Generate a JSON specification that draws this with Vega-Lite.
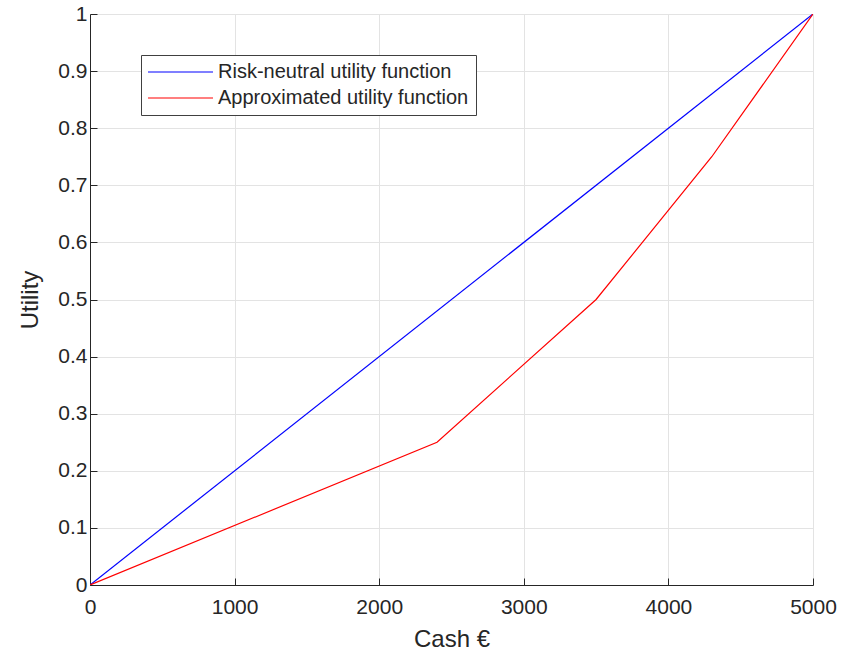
{
  "$schema": "https://vega.github.io/schema/vega-lite/v6.json",
  "autosize": "none",
  "width": 723,
  "height": 571,
  "padding": {"left": 90, "top": 14, "right": 39, "bottom": 68},
  "background": "white",
  "config": {
    "font": "Liberation Sans",
    "view": {"stroke": "#e3e3e3", "strokeWidth": 1},
    "axis": {
      "labelFont": "Liberation Sans",
      "titleFont": "Liberation Sans",
      "labelColor": "#262626",
      "titleColor": "#262626",
      "domainColor": "#262626",
      "tickColor": "#262626",
      "gridColor": "#e3e3e3",
      "labelFontSize": 21,
      "titleFontSize": 24,
      "titleFontWeight": "normal"
    }
  },
  "data": {
    "values": [
      {"cash": 0, "utility": 0, "series": "Risk-neutral utility function"},
      {"cash": 5000, "utility": 1, "series": "Risk-neutral utility function"},
      {"cash": 0, "utility": 0, "series": "Approximated utility function"},
      {"cash": 2400, "utility": 0.25, "series": "Approximated utility function"},
      {"cash": 3500, "utility": 0.5, "series": "Approximated utility function"},
      {"cash": 4300, "utility": 0.75, "series": "Approximated utility function"},
      {"cash": 5000, "utility": 1, "series": "Approximated utility function"}
    ]
  },
  "mark": {"type": "line", "strokeWidth": 1.2, "clip": true},
  "encoding": {
    "x": {
      "field": "cash", "type": "quantitative", "title": "Cash €",
      "scale": {"domain": [0, 5000], "nice": false},
      "axis": {"values": [0, 1000, 2000, 3000, 4000, 5000], "format": "d", "tickSize": -7, "labelPadding": 18, "titlePadding": 10, "labelFlush": false}
    },
    "y": {
      "field": "utility", "type": "quantitative", "title": "Utility",
      "scale": {"domain": [0, 1], "nice": false},
      "axis": {"values": [0, 0.1, 0.2, 0.3, 0.4, 0.5, 0.6, 0.7, 0.8, 0.9, 1], "format": "~g", "tickSize": -7, "labelPadding": 10, "titlePadding": 15, "labelFlush": false}
    },
    "color": {
      "field": "series", "type": "nominal",
      "scale": {"domain": ["Risk-neutral utility function", "Approximated utility function"], "range": ["#0000ff", "#ff0000"]},
      "legend": {
        "title": null,
        "orient": "none",
        "legendX": 51,
        "legendY": 41,
        "symbolType": "M-2,0H11",
        "symbolSize": 100,
        "symbolStrokeWidth": 1.2,
        "labelFontSize": 20,
        "labelLimit": 0,
        "labelColor": "#262626",
        "labelFont": "Liberation Sans",
        "labelOffset": 50,
        "strokeColor": "#404040",
        "fillColor": "white",
        "padding": 7,
        "rowPadding": 6
      }
    }
  }
}
